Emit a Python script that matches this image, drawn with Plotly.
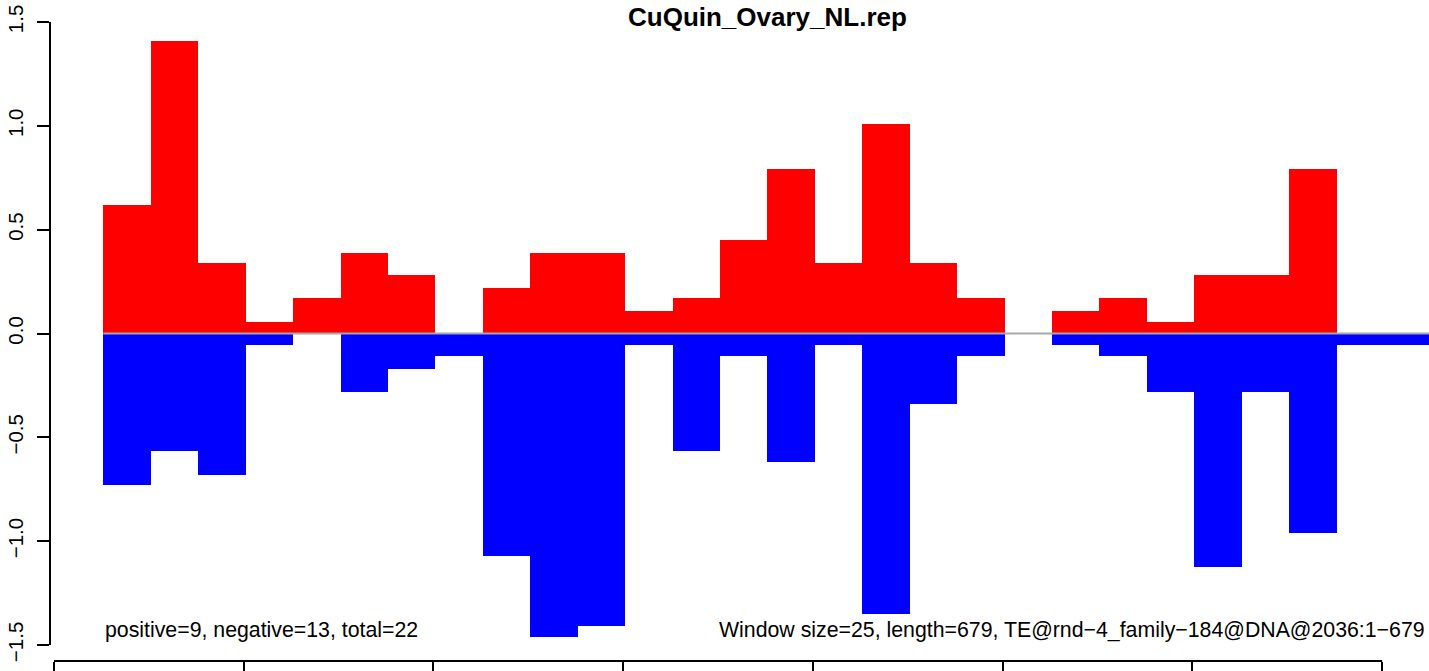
import plotly.graph_objects as go

# ---- data ----
window_size = 25
first_start = 26
pos_vals = [0.62, 1.41, 0.34, 0.056, 0.17, 0.39, 0.28, 0.0, 0.22, 0.39, 0.39, 0.11, 0.17, 0.45,
            0.79, 0.34, 1.01, 0.34, 0.17, 0.0, 0.11, 0.17, 0.056, 0.28, 0.28, 0.79, 0.0, 0.0]
neg_vals = [-0.73, -0.565, -0.68, -0.056, 0.0, -0.28, -0.17, -0.11, -1.07, -1.46, -1.41, -0.056, -0.565, -0.11,
            -0.62, -0.056, -1.35, -0.34, -0.11, 0.0, -0.056, -0.11, -0.28, -1.125, -0.28, -0.96, -0.056, -0.056]
x_ticks = [0, 100, 200, 300, 400, 500, 600, 700]
y_ticks = [-1.5, -1.0, -0.5, 0.0, 0.5, 1.0, 1.5]
y_tick_text = ["\u22121.5", "\u22121.0", "\u22120.5", "0.0", "0.5", "1.0", "1.5"]
title = "CuQuin_Ovary_NL.rep"
left_note = "positive=9, negative=13, total=22"
right_note = "Window size=25, length=679, TE@rnd\u22124_family\u2212184@DNA@2036:1\u2212679"

n = len(pos_vals)
centers = [first_start + window_size * i + window_size / 2 for i in range(n)]
x_end = first_start + window_size * n

FONT = "Liberation Sans, Arial, Helvetica, sans-serif"

fig = go.Figure()
fig.add_trace(go.Scatter(x=[first_start, x_end], y=[0, 0], mode="lines",
                         line=dict(color="#a8a8a8", width=2), hoverinfo="skip", showlegend=False))
fig.add_trace(go.Bar(x=centers, y=pos_vals, width=window_size, marker=dict(color="#ff0000", line=dict(width=0)),
                     showlegend=False))
fig.add_trace(go.Bar(x=centers, y=neg_vals, width=window_size, marker=dict(color="#0000ff", line=dict(width=0)),
                     showlegend=False))

fig.update_layout(
    width=1429, height=671,
    margin=dict(l=50, r=0, t=0, b=10, pad=0, autoexpand=False),
    paper_bgcolor="white", plot_bgcolor="white",
    barmode="overlay", bargap=0,
    font=dict(family=FONT, size=20, color="black"),
    xaxis=dict(range=[-2.108, 724.68], tickvals=x_ticks, ticks="outside", ticklen=14, tickwidth=2,
               tickcolor="black", showticklabels=False, showgrid=False, zeroline=False, showline=False,
               fixedrange=True, automargin=False),
    yaxis=dict(range=[-1.577, 1.6059], tickvals=y_ticks, ticktext=y_tick_text, ticks="outside", ticklen=12,
               tickwidth=2, tickcolor="black", tickangle=-90, ticklabelstandoff=6,
               tickfont=dict(family=FONT, size=20.5, color="black"),
               showgrid=False, zeroline=False, showline=False, fixedrange=True, automargin=False),
    shapes=[
        dict(type="line", xref="paper", yref="y", x0=0, x1=0, y0=-1.5, y1=1.5,
             line=dict(color="black", width=2)),
        dict(type="line", xref="x", yref="paper", x0=0, x1=700, y0=0, y1=0,
             line=dict(color="black", width=2)),
    ],
    annotations=[
        dict(text="<b>" + title + "</b>", x=375.8, xref="x", y=1 - 16.5 / 661, yref="paper",
             xanchor="center", yanchor="middle", showarrow=False,
             font=dict(family=FONT, size=26, color="black")),
        dict(text=left_note, x=first_start, xref="x", y=-1.43, yref="y", xanchor="left", yanchor="middle",
             showarrow=False, font=dict(family=FONT, size=21.3, color="black")),
        dict(text=right_note, x=723.4, xref="x", y=-1.43, yref="y", xanchor="right", yanchor="middle",
             showarrow=False, font=dict(family=FONT, size=21.3, color="black")),
    ],
)

fig.write_html("out.html", config={"displayModeBar": False},
               post_script="document.body.style.margin='0';")
